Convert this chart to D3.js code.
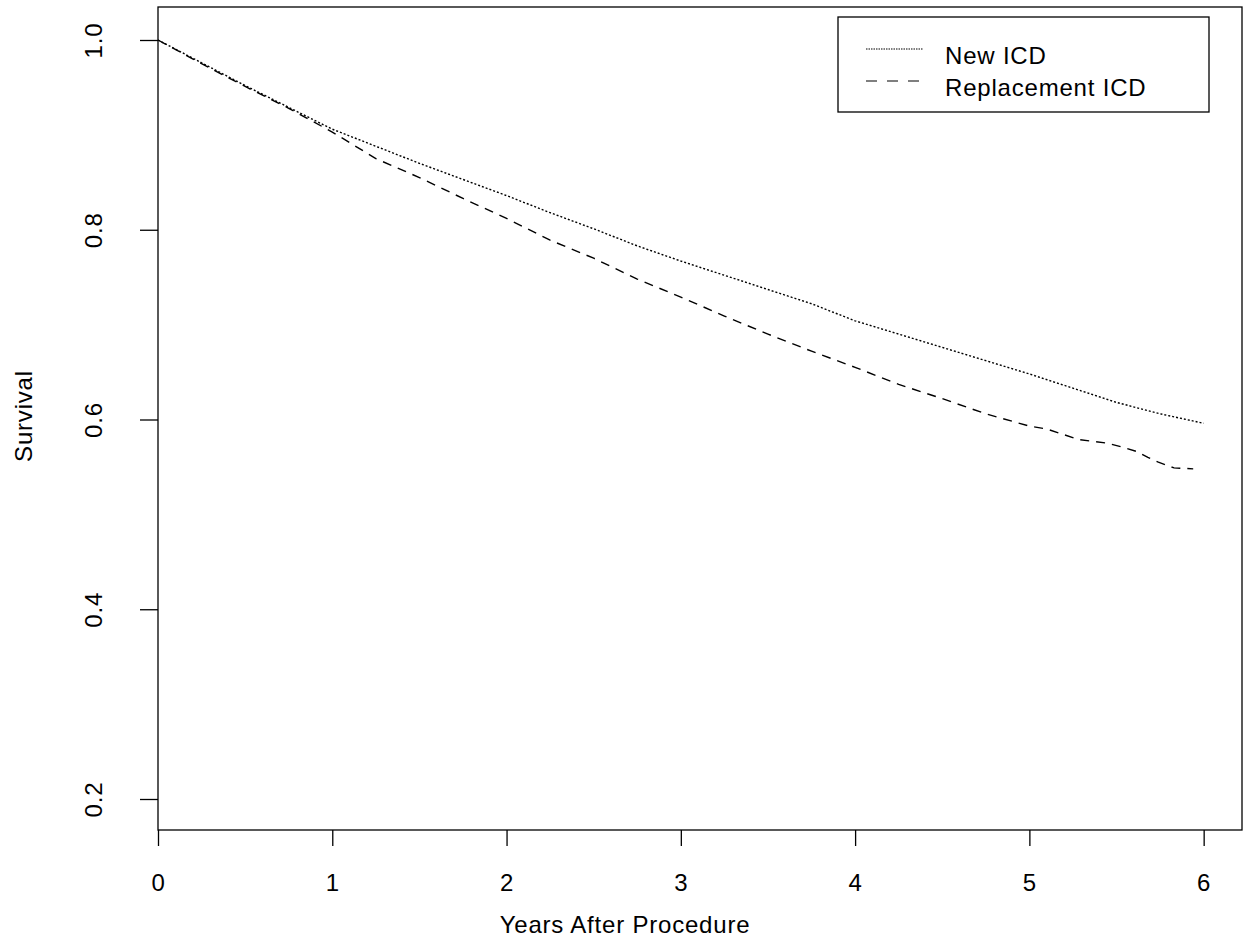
<!DOCTYPE html>
<html>
<head>
<meta charset="utf-8">
<script src="https://cdn.jsdelivr.net/npm/d3@7"></script>
<style>
  body { margin: 0; background: #fff; }
  text { font-family: "Liberation Sans", Arial, sans-serif; fill: #000; letter-spacing: 0.8px; }
</style>
</head>
<body>
<script>
// survival curves (years, survival)
const newTimes = [0, 0.25, 0.5, 0.75, 1.0, 1.25, 1.5, 1.75, 2.0, 2.25, 2.5, 2.75, 3.0, 3.25, 3.5, 3.75, 4.0, 4.25, 4.5, 4.75, 5.0, 5.25, 5.5, 5.75, 6.0]
const newSurv  = [1.0, 0.976, 0.952, 0.929, 0.906, 0.888, 0.870, 0.853, 0.836, 0.818, 0.801, 0.783, 0.767, 0.752, 0.737, 0.722, 0.704, 0.690, 0.676, 0.662, 0.648, 0.633, 0.618, 0.606, 0.596]

const repTimes = [0, 0.25, 0.5, 0.75, 1.0, 1.25, 1.5, 1.75, 2.0, 2.25, 2.5, 2.75, 3.0, 3.25, 3.5, 3.75, 4.0, 4.25, 4.5, 4.75, 5.0, 5.1, 5.28, 5.45, 5.55, 5.62, 5.68, 5.74, 5.8, 5.83, 5.94]
const repSurv  = [1.0, 0.975, 0.951, 0.928, 0.903, 0.875, 0.855, 0.833, 0.812, 0.789, 0.770, 0.748, 0.729, 0.709, 0.690, 0.672, 0.655, 0.637, 0.622, 0.606, 0.593, 0.590, 0.579, 0.575, 0.570, 0.566, 0.560, 0.555, 0.551, 0.549, 0.548]

const xTicks = [0, 1, 2, 3, 4, 5, 6]
const yTicks = [0.2, 0.4, 0.6, 0.8, 1.0]
const seriesNames = ["New ICD", "Replacement ICD"]

const width = 1251
const height = 941
const box = {left: 158, right: 1242, top: 7, bottom: 830}

const svg = d3.select("body").append("svg")
    .attr("width", width)
    .attr("height", height)

svg.append("rect")
    .attr("width", width).attr("height", height).attr("fill", "#fff")

const x = d3.scaleLinear().domain([0, 6.22]).range([box.left, box.right])
const y = d3.scaleLinear().domain([0.2, 1.0]).range([799, 40])

// x axis
const gx = svg.append("g")
    .attr("transform", `translate(0,${box.bottom})`)
    .call(d3.axisBottom(x).tickValues(xTicks).tickSize(16).tickFormat(d3.format("d")))
gx.select(".domain").remove()
gx.selectAll("line").attr("stroke", "#000").attr("stroke-width", 1.3)
gx.selectAll("text").attr("y", 61).attr("dy", 0).style("font-size", "24px")

// y axis, labels turned like base R
const gy = svg.append("g")
    .attr("transform", `translate(${box.left},0)`)
    .call(d3.axisLeft(y).tickValues(yTicks).tickSize(18).tickFormat(d3.format(".1f")))
gy.select(".domain").remove()
gy.selectAll("line").attr("stroke", "#000").attr("stroke-width", 1.3)
gy.selectAll("text")
    .attr("transform", "rotate(-90)")
    .attr("x", 0).attr("y", -56).attr("dy", 0)
    .attr("text-anchor", "middle")
    .style("font-size", "24px")

// frame
svg.append("rect")
    .attr("x", box.left).attr("y", box.top)
    .attr("width", box.right - box.left).attr("height", box.bottom - box.top)
    .attr("fill", "none").attr("stroke", "#000").attr("stroke-width", 1.3)

// curves
const line = d3.line().x(d => x(d[0])).y(d => y(d[1]))
const newData = d3.zip(newTimes, newSurv)
const repData = d3.zip(repTimes, repSurv)

svg.append("path")
    .attr("d", line(newData))
    .attr("fill", "none").attr("stroke", "#000").attr("stroke-width", 1.4)
    .attr("stroke-dasharray", "2,2")

svg.append("path")
    .attr("d", line(repData))
    .attr("fill", "none").attr("stroke", "#000").attr("stroke-width", 1.4)
    .attr("stroke-dasharray", "9,7")

// axis titles
svg.append("text")
    .attr("x", 625).attr("y", 933)
    .attr("text-anchor", "middle")
    .style("font-size", "24px")
    .text("Years After Procedure")

svg.append("text")
    .attr("transform", "translate(32,416) rotate(-90)")
    .attr("text-anchor", "middle")
    .style("font-size", "24px")
    .text("Survival")

// legend
const legend = svg.append("g")
legend.append("rect")
    .attr("x", 838).attr("y", 17).attr("width", 371).attr("height", 95)
    .attr("fill", "#fff").attr("stroke", "#000").attr("stroke-width", 1.3)

const dashes = ["1.5,1", "11,10"]
const rowY = [49, 81]
seriesNames.forEach((name, i) => {
    legend.append("line")
        .attr("x1", 866).attr("x2", 923)
        .attr("y1", rowY[i]).attr("y2", rowY[i])
        .attr("stroke", "#000").attr("stroke-width", 1.2)
        .attr("stroke-dasharray", dashes[i])
    legend.append("text")
        .attr("x", 945).attr("y", rowY[i] + 15)
        .style("font-size", "24px")
        .text(name)
})
</script>
</body>
</html>
